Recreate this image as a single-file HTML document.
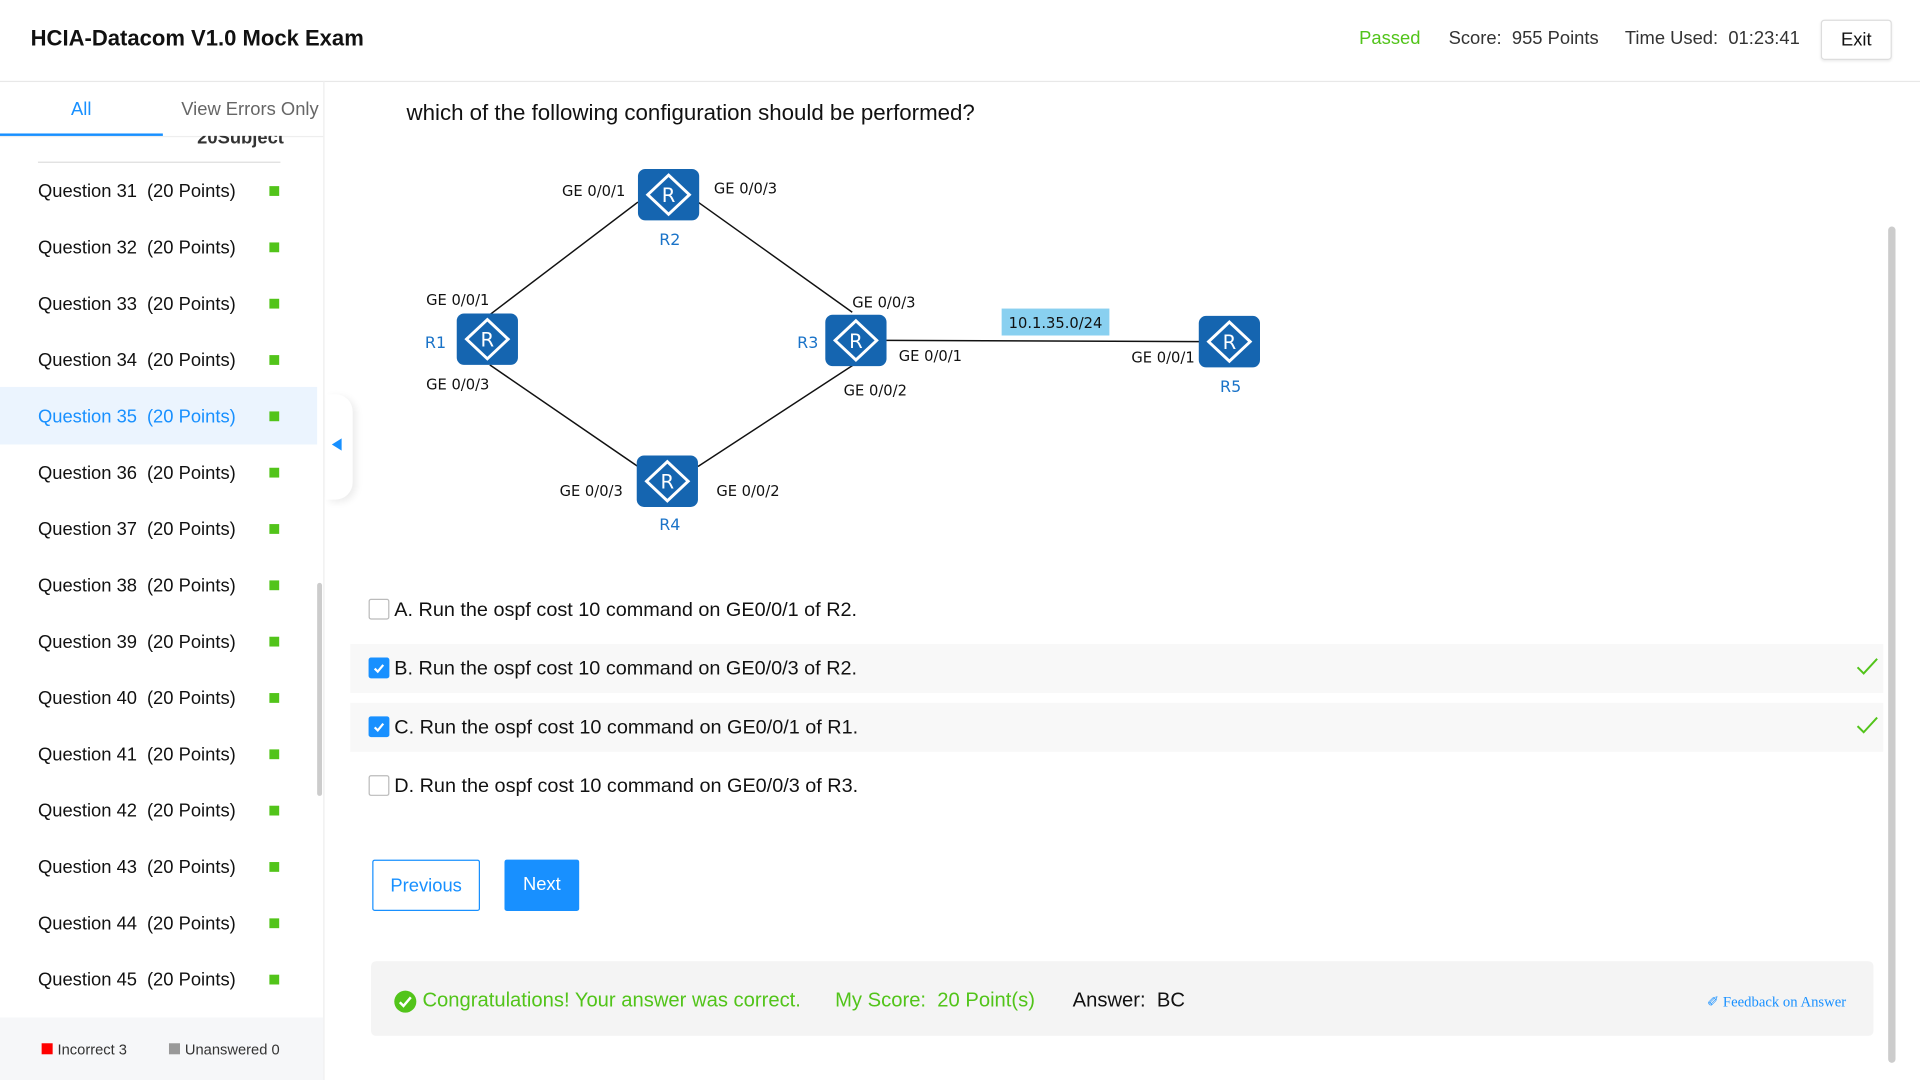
<!DOCTYPE html>
<html><head><meta charset="utf-8"><style>
html,body{margin:0;padding:0;width:1920px;height:1080px;overflow:hidden;background:#fff}
#w{position:absolute;left:0;top:0;width:1568px;height:882px;transform:scale(1.22449);transform-origin:0 0;font-family:"Liberation Sans",sans-serif;color:#111}
.a{position:absolute;white-space:nowrap}
.q{position:absolute;left:31px;font-size:15px;white-space:nowrap;width:220px;height:20px}
.q .p{position:absolute;left:89px;top:0}
.q .s{position:absolute;left:189px;top:4px;width:8px;height:8px;background:#52c41a}
.cb{position:absolute;width:15px;height:15px;border:1px solid #bbb;border-radius:2px;background:#fff}
.cb.on{background:#1890ff;border-color:#1890ff}
.opt{position:absolute;font-size:16.2px;white-space:nowrap}
.ge{font-family:"DejaVu Sans",sans-serif;font-size:12px;fill:#111}
.rl{font-family:"DejaVu Sans",sans-serif;font-size:13px;fill:#1a73c8}
</style></head><body><div id="w">
<div class="a" style="left:25px;top:21px;font-size:18px;font-weight:bold">HCIA-Datacom V1.0 Mock Exam</div>
<div class="a" style="left:1110px;top:23px;font-size:15px;color:#52c41a">Passed</div>
<div class="a" style="left:1183px;top:23px;font-size:15px;color:#333">Score:&nbsp; 955 Points</div>
<div class="a" style="left:1327px;top:23px;font-size:15px;color:#333">Time Used:&nbsp; 01:23:41</div>
<div class="a" style="left:1487px;top:16px;width:56px;height:31px;border:1px solid #ddd;border-radius:3px;font-size:15px;text-align:center;line-height:31px;box-shadow:0 1px 2px rgba(0,0,0,.08)">Exit</div>
<div class="a" style="left:0;top:66px;width:1568px;height:1px;background:#e8e8e8"></div>
<div class="a" style="left:264px;top:66px;width:1px;height:816px;background:#eee"></div>
<div class="a" style="left:0;top:66px;width:264px;height:45px;border-bottom:1px solid #eee"></div>
<div class="a" style="left:58px;top:81px;font-size:15px;color:#1890ff">All</div>
<div class="a" style="left:148px;top:81px;font-size:15px;color:#666">View Errors Only</div>
<div class="a" style="left:0;width:133px;height:2px;background:#1890ff;top:109px"></div>
<div class="a" style="left:161px;top:111px;height:10px;overflow:hidden;font-size:15px;font-weight:bold;color:#333"><div style="margin-top:-7px">20Subject</div></div>
<div class="a" style="left:31px;top:132px;width:198px;height:1px;background:#ddd"></div>
<div class="a" style="left:0;top:316px;width:259px;height:47px;background:#ebf4fe"></div>
<div class="q" style="top:148px">Question 31<span class="p">(20 Points)</span><span class="s"></span></div>
<div class="q" style="top:194px">Question 32<span class="p">(20 Points)</span><span class="s"></span></div>
<div class="q" style="top:240px">Question 33<span class="p">(20 Points)</span><span class="s"></span></div>
<div class="q" style="top:286px">Question 34<span class="p">(20 Points)</span><span class="s"></span></div>
<div class="q" style="top:332px;color:#1890ff">Question 35<span class="p">(20 Points)</span><span class="s"></span></div>
<div class="q" style="top:378px">Question 36<span class="p">(20 Points)</span><span class="s"></span></div>
<div class="q" style="top:424px">Question 37<span class="p">(20 Points)</span><span class="s"></span></div>
<div class="q" style="top:470px">Question 38<span class="p">(20 Points)</span><span class="s"></span></div>
<div class="q" style="top:516px">Question 39<span class="p">(20 Points)</span><span class="s"></span></div>
<div class="q" style="top:562px">Question 40<span class="p">(20 Points)</span><span class="s"></span></div>
<div class="q" style="top:608px">Question 41<span class="p">(20 Points)</span><span class="s"></span></div>
<div class="q" style="top:654px">Question 42<span class="p">(20 Points)</span><span class="s"></span></div>
<div class="q" style="top:700px">Question 43<span class="p">(20 Points)</span><span class="s"></span></div>
<div class="q" style="top:746px">Question 44<span class="p">(20 Points)</span><span class="s"></span></div>
<div class="q" style="top:792px">Question 45<span class="p">(20 Points)</span><span class="s"></span></div>
<div class="a" style="left:259px;top:476px;width:4px;height:174px;background:#ccc;border-radius:2px"></div>
<div class="a" style="left:0;top:831px;width:264px;height:51px;background:#f6f7f9"></div>
<div class="a" style="left:34px;top:852px;width:9px;height:9px;background:#f00"></div>
<div class="a" style="left:47px;top:850px;font-size:12px;color:#333">Incorrect 3</div>
<div class="a" style="left:138px;top:852px;width:9px;height:9px;background:#999"></div>
<div class="a" style="left:151px;top:850px;font-size:12px;color:#333">Unanswered 0</div>
<div class="a" style="left:266px;top:322px;width:22px;height:86px;background:#fff;border-radius:0 14px 14px 0;box-shadow:3px 2px 6px rgba(0,0,0,.08)"></div>
<div class="a" style="left:271px;top:358px;width:0;height:0;border-top:5px solid transparent;border-bottom:5px solid transparent;border-right:8px solid #1890ff"></div>

<div class="a" style="left:332px;top:82px;font-size:18.2px">which of the following configuration should be performed?</div>
<svg class="a" style="left:0;top:0" width="1568" height="460">
<defs><g id="r"><rect x="-25" y="-21" width="50" height="42" rx="6" fill="#1565b0"/><path d="M0,-16 L17,0 L0,16 L-17,0Z" fill="none" stroke="#fff" stroke-width="2.4"/><text x="0" y="6" text-anchor="middle" font-family="DejaVu Sans,sans-serif" font-size="16" fill="#fff">R</text></g></defs>
<g stroke="#111" stroke-width="1.2">
<line x1="400" y1="257" x2="521" y2="165"/><line x1="570" y1="165" x2="696" y2="255"/>
<line x1="400" y1="298" x2="521" y2="381"/><line x1="570" y1="381" x2="700" y2="296"/>
<line x1="724" y1="278" x2="980" y2="279"/></g>
<rect x="818" y="252" width="88" height="22" fill="#89d0f0"/>
<text x="862" y="268" text-anchor="middle" class="ge">10.1.35.0/24</text>
<use href="#r" x="546" y="159"/><use href="#r" x="398" y="277"/><use href="#r" x="699" y="278"/><use href="#r" x="545" y="393"/><use href="#r" x="1004" y="279"/>
<text class="ge" x="459" y="160">GE 0/0/1</text><text class="ge" x="583" y="158">GE 0/0/3</text>
<text class="ge" x="348" y="249">GE 0/0/1</text><text class="ge" x="348" y="318">GE 0/0/3</text>
<text class="ge" x="696" y="251">GE 0/0/3</text><text class="ge" x="734" y="295">GE 0/0/1</text><text class="ge" x="689" y="323">GE 0/0/2</text>
<text class="ge" x="457" y="405">GE 0/0/3</text><text class="ge" x="585" y="405">GE 0/0/2</text><text class="ge" x="924" y="296">GE 0/0/1</text>
<text class="rl" x="547" y="200" text-anchor="middle">R2</text><text class="rl" x="347" y="284">R1</text><text class="rl" x="651" y="284">R3</text>
<text class="rl" x="547" y="433" text-anchor="middle">R4</text><text class="rl" x="1005" y="320" text-anchor="middle">R5</text>
</svg>

<div class="a" style="left:286px;top:526px;width:1252px;height:40px;background:#f8f8f8"></div>
<div class="a" style="left:286px;top:574px;width:1252px;height:40px;background:#f8f8f8"></div>
<div class="cb" style="left:301px;top:489px"></div><div class="opt" style="left:322px;top:489px">A. Run the ospf cost 10 command on GE0/0/1 of R2.</div>
<div class="cb on" style="left:301px;top:537px"><svg width="15" height="15"><path d="M4,8 L6.5,10.5 L11,5" stroke="#fff" stroke-width="1.8" fill="none"/></svg></div><div class="opt" style="left:322px;top:537px">B. Run the ospf cost 10 command on GE0/0/3 of R2.</div>
<div class="cb on" style="left:301px;top:585px"><svg width="15" height="15"><path d="M4,8 L6.5,10.5 L11,5" stroke="#fff" stroke-width="1.8" fill="none"/></svg></div><div class="opt" style="left:322px;top:585px">C. Run the ospf cost 10 command on GE0/0/1 of R1.</div>
<div class="cb" style="left:301px;top:633px"></div><div class="opt" style="left:322px;top:633px">D. Run the ospf cost 10 command on GE0/0/3 of R3.</div>
<svg class="a" style="left:1515px;top:536px" width="20" height="18"><path d="M2,9 L7,14 L18,2" stroke="#52c41a" stroke-width="1.6" fill="none"/></svg>
<svg class="a" style="left:1515px;top:584px" width="20" height="18"><path d="M2,9 L7,14 L18,2" stroke="#52c41a" stroke-width="1.6" fill="none"/></svg>

<div class="a" style="left:304px;top:702px;width:86px;height:40px;border:1px solid #1890ff;border-radius:2px;color:#1890ff;font-size:15px;text-align:center;line-height:42px">Previous</div>
<div class="a" style="left:412px;top:702px;width:61px;height:42px;background:#1890ff;border-radius:2px;color:#fff;font-size:15px;text-align:center;line-height:42px">Next</div>

<div class="a" style="left:303px;top:785px;width:1227px;height:61px;background:#f4f4f4;border-radius:4px"></div>
<div class="a" style="left:322px;top:809px;width:18px;height:18px;border-radius:50%;background:#52c41a"><svg width="18" height="18"><path d="M4.5,9.5 L7.5,12.5 L13.5,5.5" stroke="#fff" stroke-width="2" fill="none"/></svg></div>
<div class="a" style="left:345px;top:808px;font-size:16.5px;color:#52c41a">Congratulations! Your answer was correct.</div>
<div class="a" style="left:682px;top:808px;font-size:16.5px;color:#52c41a">My Score:&nbsp; 20 Point(s)</div>
<div class="a" style="left:876px;top:808px;font-size:16.5px;color:#111">Answer:&nbsp; BC</div>
<div class="a" style="left:1394px;top:811px;font-size:12px;color:#1890ff;font-family:'Liberation Serif',serif">✐ Feedback on Answer</div>
<div class="a" style="left:1542px;top:185px;width:6px;height:683px;background:#ccc;border-radius:3px"></div>
</div></body></html>
